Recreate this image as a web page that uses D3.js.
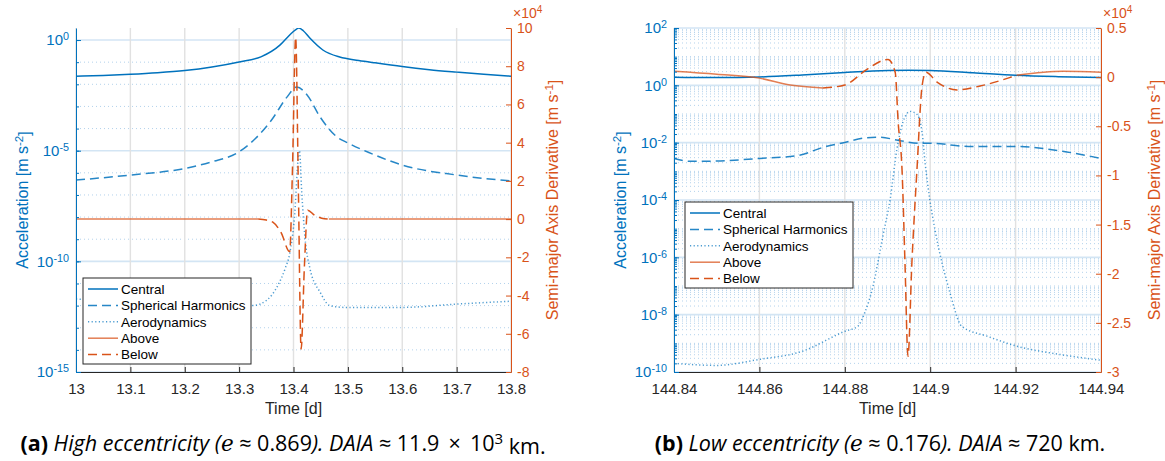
<!DOCTYPE html>
<html lang="en">
<head>
<meta charset="UTF-8">
<title>Acceleration and semi-major axis derivative</title>
<script src="https://d3js.org/d3.v7.min.js"></script>
<style>
  body { margin: 0; background: #fff; }
  svg text { font-family: "Liberation Sans", Arial, sans-serif; }
  .caption { font-family: "Open Sans", sans-serif; }
</style>
</head>
<body>
<svg id="chart" width="1165" height="461"></svg>
<script>
// ---------- panel (a): high eccentricity ----------
const aTimeTicks = [13, 13.1, 13.2, 13.3, 13.4, 13.5, 13.6, 13.7, 13.8];
const aAccelTicks = [1e-15, 1e-10, 1e-5, 1e0];
const aDadtTicks = [-8e4, -6e4, -4e4, -2e4, 0, 2e4, 4e4, 6e4, 8e4, 10e4];

const aCentralT = [13.00, 13.05, 13.10, 13.15, 13.20, 13.25, 13.30, 13.34, 13.375, 13.393, 13.403, 13.41, 13.418, 13.43, 13.454, 13.485, 13.52, 13.55, 13.6, 13.65, 13.7, 13.75, 13.8];
const aCentral = [0.0234, 0.0251, 0.0282, 0.0331, 0.0417, 0.0603, 0.102, 0.174, 0.589, 1.70, 2.82, 3.47, 2.63, 1.23, 0.355, 0.170, 0.120, 0.0933, 0.0631, 0.0457, 0.0355, 0.0282, 0.0234];

const aSphT = [13.0, 13.1, 13.2, 13.25, 13.3, 13.33, 13.36, 13.388, 13.406, 13.425, 13.449, 13.48, 13.5, 13.55, 13.6, 13.7, 13.8];
const aSph = [4.68e-7, 7.94e-7, 1.58e-6, 3.16e-6, 8.91e-6, 3.55e-5, 2.51e-4, 2.63e-3, 7.59e-3, 3.31e-3, 3.31e-4, 4.17e-5, 2.24e-5, 6.31e-6, 2.24e-6, 7.94e-7, 4.27e-7];

const aAeroT = [13.0, 13.1, 13.2, 13.3, 13.325, 13.351, 13.371, 13.385, 13.393, 13.403, 13.408, 13.411, 13.415, 13.421, 13.43, 13.449, 13.467, 13.494, 13.6, 13.7, 13.8];
const aAero = [2.0e-12, 1.51e-12, 1.2e-12, 1.05e-12, 1.0e-12, 1.78e-12, 7.94e-12, 5.0e-11, 2.24e-10, 2.51e-8, 3.16e-6, 1.0e-5, 1.58e-7, 1.26e-9, 5.0e-11, 3.98e-12, 1.0e-12, 8.3e-13, 8.3e-13, 1.17e-12, 1.58e-12];

const aDadtT = [13.0, 13.2, 13.335, 13.35, 13.362, 13.377, 13.393, 13.398, 13.404, 13.409, 13.414, 13.42, 13.426, 13.439, 13.452, 13.465, 13.5, 13.8];
const aDadt = [0, 0, 0, -500, -1600, -7000, -17000, 25000, 95000, 15000, -68000, -25000, 4700, 2000, 500, 0, 0, 0];
const aBelow = [13.335, 13.465];

// ---------- panel (b): low eccentricity ----------
const bTimeTicks = [144.84, 144.86, 144.88, 144.9, 144.92, 144.94];
const bAccelTicks = [1e-10, 1e-8, 1e-6, 1e-4, 1e-2, 1e0, 1e2];
const bDadtTicks = [-3e4, -2.5e4, -2e4, -1.5e4, -1e4, -0.5e4, 0, 0.5e4];

const bCentralT = [144.84, 144.85, 144.86, 144.87, 144.88, 144.89, 144.895, 144.9, 144.91, 144.92, 144.93, 144.94];
const bCentral = [1.91, 1.86, 1.95, 2.29, 2.82, 3.31, 3.39, 3.31, 2.75, 2.24, 2.0, 1.86];

const bSphT = [144.84, 144.844, 144.85, 144.86, 144.869, 144.875, 144.88, 144.885, 144.888, 144.893, 144.897, 144.9, 144.909, 144.92, 144.931, 144.94];
const bSph = [2.82e-3, 2.24e-3, 2.29e-3, 2.82e-3, 3.55e-3, 6.92e-3, 1.02e-2, 1.48e-2, 1.55e-2, 1.17e-2, 9.55e-3, 9.55e-3, 7.41e-3, 7.41e-3, 5.01e-3, 2.82e-3];

const bAeroT = [144.84, 144.85, 144.86, 144.87, 144.88, 144.883, 144.8847, 144.8866, 144.8882, 144.889, 144.8906, 144.8922, 144.8936, 144.8953, 144.8969, 144.8981, 144.8988, 144.8999, 144.9011, 144.9046, 144.9074, 144.9133, 144.9203, 144.93, 144.94];
const bAero = [2.0e-10, 1.7e-10, 2.75e-10, 5.25e-10, 2.63e-9, 3.89e-9, 1.2e-8, 9.77e-8, 1.51e-6, 6.31e-6, 1.0e-4, 5.89e-3, 5.13e-2, 0.123, 9.77e-2, 2.29e-2, 2.04e-3, 1.05e-4, 9.55e-6, 6.03e-8, 3.89e-9, 1.78e-9, 7.94e-10, 4.17e-10, 2.57e-10];

const bDadtT = [144.84, 144.85, 144.86, 144.8672, 144.8749, 144.88, 144.8852, 144.8901, 144.8918, 144.8925, 144.8934, 144.8941, 144.8948, 144.8957, 144.8969, 144.8981, 144.899, 144.9016, 144.9063, 144.9117, 144.9203, 144.9311, 144.94];
const bDadt = [600, 300, -100, -800, -1100, -800, 800, 1800, 500, -4600, -9400, -19000, -28400, -19000, -9400, -900, 500, -500, -1300, -900, 200, 600, 500];
const bBelow = [144.8749, 144.9203];

const legendLabels = ["Central", "Spherical Harmonics", "Aerodynamics", "Above", "Below"];

// ---------- styles ----------
const blue = "#0072BD", orange = "#D95319", ink = "#262626";
const plotTop = 28, plotBottom = 372;
const styles = [
    { color: blue, dash: null, opacity: 1 },
    { color: blue, dash: "9,5", opacity: 0.85 },
    { color: blue, dash: "1.2,2.4", opacity: 0.7 },
    { color: orange, dash: null, opacity: 0.75 },
    { color: orange, dash: "9,5", opacity: 1 }
];

const svg = d3.select("#chart");
const zip = (t, v) => t.map((d, i) => ({ t: d, v: v[i] }));

function sup(sel, base, exp, rest) {
    sel.append("tspan").text(base);
    sel.append("tspan").attr("dy", "-0.45em").attr("font-size", "0.72em").text(exp);
    if (rest) sel.append("tspan").attr("dy", "0.45em").text(rest);
}

function drawPanel(p) {
    const x = d3.scaleLinear().domain(p.xDomain).range([p.left, p.right]);
    const yL = d3.scaleLog().domain(p.logDomain).range([plotBottom, plotTop]);
    const yR = d3.scaleLinear().domain(p.rightDomain).range([plotBottom, plotTop]);
    const g = svg.append("g");

    const clipId = "clip-" + p.id;
    g.append("clipPath").attr("id", clipId)
        .append("rect").attr("x", p.left).attr("y", plotTop)
        .attr("width", p.right - p.left).attr("height", plotBottom - plotTop);

    // grid
    g.append("g").selectAll("line").data(p.minorY).join("line")
        .attr("x1", p.left).attr("x2", p.right)
        .attr("y1", d => yL(d)).attr("y2", d => yL(d))
        .attr("stroke", "#b3d2ec").attr("stroke-width", 1)
        .attr("stroke-dasharray", "1,3");
    g.append("g").selectAll("line").data(p.accelTicks).join("line")
        .attr("x1", p.left).attr("x2", p.right)
        .attr("y1", d => yL(d)).attr("y2", d => yL(d))
        .attr("stroke", "#d3e5f4").attr("stroke-width", 1.6);
    g.append("g").selectAll("line").data(p.timeTicks).join("line")
        .attr("x1", d => x(d)).attr("x2", d => x(d))
        .attr("y1", plotTop).attr("y2", plotBottom)
        .attr("stroke", "#e1e1e1").attr("stroke-width", 1.4);

    // series
    const lineL = d3.line().x(d => x(d.t)).y(d => yL(d.v)).curve(d3.curveMonotoneX);
    const lineR = d3.line().x(d => x(d.t)).y(d => yR(d.v)).curve(d3.curveMonotoneX);
    const plot = g.append("g").attr("clip-path", `url(#${clipId})`);
    const dadt = zip(p.dadtT, p.dadt);
    const series = [
        { path: lineL(zip(p.centralT, p.central)), s: styles[0] },
        { path: lineL(zip(p.sphT, p.sph)), s: styles[1] },
        { path: lineL(zip(p.aeroT, p.aero)), s: styles[2] },
        { path: lineR.defined(d => d.t <= p.below[0] || d.t >= p.below[1])(dadt), s: styles[3] },
        { path: lineR.defined(d => d.t >= p.below[0] && d.t <= p.below[1])(dadt), s: styles[4] }
    ];
    plot.selectAll("path").data(series).join("path")
        .attr("d", d => d.path)
        .attr("fill", "none")
        .attr("stroke", d => d.s.color)
        .attr("stroke-opacity", d => d.s.opacity)
        .attr("stroke-width", 1.5)
        .attr("stroke-dasharray", d => d.s.dash);

    // axes
    const xAxis = g.append("g").attr("transform", `translate(0,${plotBottom})`)
        .call(d3.axisBottom(x).tickValues(p.timeTicks).tickSizeInner(-5).tickSizeOuter(0)
            .tickPadding(11).tickFormat(d => String(+d.toFixed(2))));
    xAxis.select(".domain").attr("stroke", ink);
    xAxis.selectAll(".tick line").attr("stroke", ink);
    xAxis.selectAll("text").attr("fill", ink).attr("font-size", 15);

    g.append("g").attr("transform", `translate(${p.left},0)`)
        .call(d3.axisLeft(yL).tickValues(p.minorTicks).tickSizeInner(-3).tickSizeOuter(0).tickFormat(""))
        .call(a => a.select(".domain").remove())
        .selectAll("line").attr("stroke", blue);

    const yAxisL = g.append("g").attr("transform", `translate(${p.left},0)`)
        .call(d3.axisLeft(yL).tickValues(p.accelTicks).tickSizeInner(-5).tickSizeOuter(0).tickPadding(7));
    yAxisL.select(".domain").attr("stroke", blue);
    yAxisL.selectAll(".tick line").attr("stroke", blue);
    yAxisL.selectAll("text").attr("fill", blue).attr("font-size", 15)
        .each(function (d) {
            const t = d3.select(this).text(null);
            sup(t, "10", String(Math.round(Math.log10(d))));
        });

    const yAxisR = g.append("g").attr("transform", `translate(${p.right},0)`)
        .call(d3.axisRight(yR).tickValues(p.dadtTicks).tickSizeInner(-5).tickSizeOuter(0).tickPadding(6)
            .tickFormat(d => String(+(d / 1e4).toFixed(1))));
    yAxisR.select(".domain").attr("stroke", orange);
    yAxisR.selectAll(".tick line").attr("stroke", orange);
    yAxisR.selectAll("text").attr("fill", orange).attr("font-size", 14);

    // exponent marker
    const ex = g.append("text").attr("x", p.right + 2).attr("y", 18)
        .attr("fill", orange).attr("font-size", 14);
    sup(ex, "\u00d710", "4");

    // labels
    g.append("text").attr("x", (p.left + p.right) / 2).attr("y", 414)
        .attr("text-anchor", "middle").attr("fill", ink).attr("font-size", 16).text("Time [d]");

    const ll = g.append("text").attr("text-anchor", "middle").attr("fill", blue).attr("font-size", 16)
        .attr("transform", `translate(${p.labelL},${(plotTop + plotBottom) / 2}) rotate(-90)`);
    sup(ll, "Acceleration [m s", "-2", "]");

    const rl = g.append("text").attr("text-anchor", "middle").attr("fill", orange).attr("font-size", 16)
        .attr("transform", `translate(${p.labelR},${(plotTop + plotBottom) / 2}) rotate(-90)`);
    sup(rl, "Semi-major Axis Derivative [m s", "-1", "]");

    // legend
    const lg = g.append("g").attr("transform", `translate(${p.legend[0]},${p.legend[1]})`);
    lg.append("rect").attr("width", 168).attr("height", 86)
        .attr("fill", "#fff").attr("stroke", ink).attr("stroke-width", 1);
    const row = lg.selectAll("g").data(legendLabels).join("g")
        .attr("transform", (d, i) => `translate(0,${11 + i * 16.4})`);
    row.append("line").attr("x1", 5).attr("x2", 35)
        .attr("stroke", (d, i) => styles[i].color)
        .attr("stroke-opacity", (d, i) => styles[i].opacity)
        .attr("stroke-dasharray", (d, i) => styles[i].dash)
        .attr("stroke-width", 1.5);
    row.append("text").attr("x", 38).attr("dy", "0.35em")
        .attr("font-size", 13.5).attr("fill", "#000").text(d => d);
}

function logMinor(lo, hi, every) {
    const out = [];
    for (let n = lo; n <= hi; n++) {
        if (every) { out.push(Math.pow(10, n)); continue; }
        for (let k = 1; k <= 9; k++) out.push(k * Math.pow(10, n));
    }
    return out;
}

const aMinor = logMinor(-15, 0, true);
const bMinor = logMinor(-10, 2, false).filter(d => d <= 100.0001);

drawPanel({
    id: "a", left: 76, right: 511, xDomain: [13, 13.8],
    logDomain: [1e-15, 3.5], rightDomain: [-8e4, 10e4],
    timeTicks: aTimeTicks, accelTicks: aAccelTicks, dadtTicks: aDadtTicks,
    minorTicks: aMinor, minorY: aMinor.filter(d => !aAccelTicks.includes(d)),
    centralT: aCentralT, central: aCentral, sphT: aSphT, sph: aSph,
    aeroT: aAeroT, aero: aAero, dadtT: aDadtT, dadt: aDadt, below: aBelow,
    labelL: 28, labelR: 558, legend: [83, 278]
});

drawPanel({
    id: "b", left: 674, right: 1101, xDomain: [144.84, 144.94],
    logDomain: [1e-10, 1e2], rightDomain: [-3e4, 0.5e4],
    timeTicks: bTimeTicks, accelTicks: bAccelTicks, dadtTicks: bDadtTicks,
    minorTicks: bMinor, minorY: bMinor.filter(d => !bAccelTicks.some(m => Math.abs(m - d) / m < 1e-9)),
    centralT: bCentralT, central: bCentral, sphT: bSphT, sph: bSph,
    aeroT: bAeroT, aero: bAero, dadtT: bDadtT, dadt: bDadt, below: bBelow,
    labelL: 626, labelR: 1160, legend: [685, 202]
});

// captions
function caption(cx, tag, desc, ecc, daia, daiaExp) {
    const t = svg.append("text").attr("class", "caption").attr("x", cx).attr("y", 451)
        .attr("text-anchor", "middle").attr("font-size", 21.5).attr("fill", "#000");
    t.append("tspan").attr("font-weight", "bold").text(tag + " ");
    t.append("tspan").attr("font-style", "italic").text(desc + " (");
    t.append("tspan").attr("font-style", "italic").attr("font-family", "'DejaVu Serif', serif").text("e");
    t.append("tspan").text(" \u2248 " + ecc);
    t.append("tspan").attr("font-style", "italic").text("). DAIA");
    t.append("tspan").text(" \u2248 " + daia);
    if (daiaExp) {
        t.append("tspan").attr("dy", "-0.45em").attr("font-size", "0.7em").text(daiaExp);
        t.append("tspan").attr("dy", "0.45em").text(" km.");
    } else {
        t.append("tspan").text(" km.");
    }
}
caption(283, "(a)", "High eccentricity", "0.869", "11.9 \u2009\u00d7\u2009 10", "3");
caption(880, "(b)", "Low eccentricity", "0.176", "720", null);
</script>
</body>
</html>
